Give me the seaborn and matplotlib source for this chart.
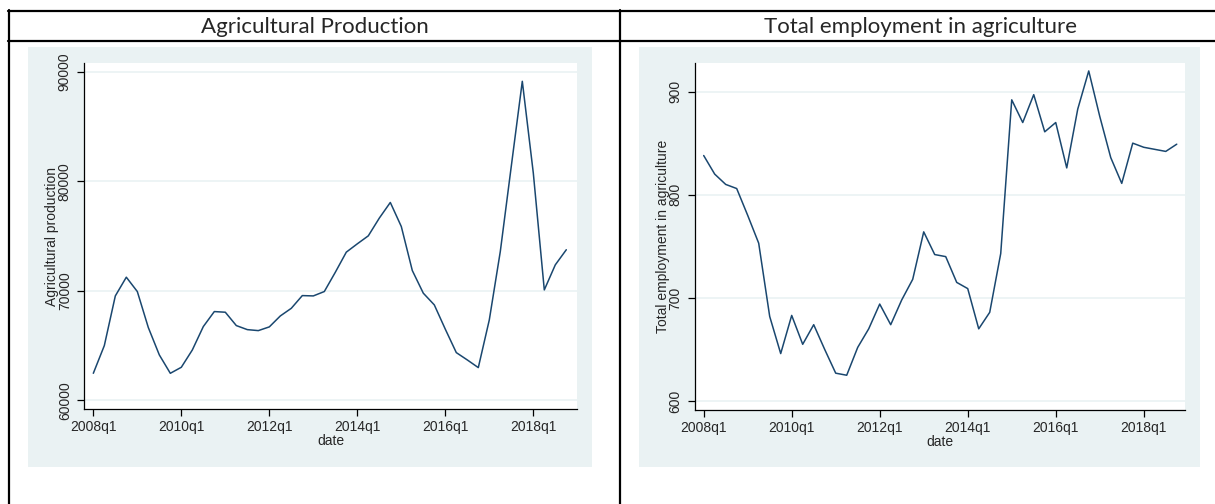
import matplotlib.pyplot as plt
import pandas as pd
import seaborn as sns
from matplotlib.lines import Line2D

W, H = 1215, 504
LINE = "#1a476f"
BG = "#eaf2f3"

quarters = [f"{y}q{q}" for y in range(2008, 2019) for q in range(1, 5)]

agri_production = [
    62470, 65000, 69540, 71250, 69940, 66650, 64150, 62470,
    63020, 64600, 66740, 68110, 68050, 66830, 66460, 66370,
    66710, 67710, 68410, 69570, 69540, 69940, 71700, 73540,
    74300, 75030, 76650, 78080, 75880, 71860, 69790, 68720,
    66500, 64360, 63690, 62990, 67350, 73600, 81400, 89150,
    80770, 70090, 72380, 73760,
]
agri_employment = [
    838, 820, 810, 806, 780, 753, 682, 646,
    683, 655, 674, 650, 627, 625, 652, 670,
    694, 674, 698, 718, 764, 742, 740, 715,
    709, 670, 686, 743, 892, 870, 897, 861,
    870, 826, 883, 920, 876, 836, 811, 850,
    846, 844, 842, 849,
]

x_ticks = ["2008q1", "2010q1", "2012q1", "2014q1", "2016q1", "2018q1"]
prod_ticks = [60000, 70000, 80000, 90000]
emp_ticks = [600, 700, 800, 900]


def px_axes(fig, left, top, right, bottom):
    return fig.add_axes([left / W, 1 - bottom / H, (right - left) / W, (bottom - top) / H])


def px_background(fig, left, top, right, bottom):
    bg = px_axes(fig, left, top, right, bottom)
    bg.set_facecolor(BG)
    bg.set_xticks([])
    bg.set_yticks([])
    for s in bg.spines.values():
        s.set_visible(False)
    bg.set_zorder(0)


def px_line(fig, x1, y1, x2, y2):
    fig.add_artist(Line2D([x1 / W, x2 / W], [1 - y1 / H, 1 - y2 / H],
                          transform=fig.transFigure, color="black", lw=1.6))


def draw_panel(fig, box, values, yticks, ylim, xlim, ylabel):
    df = pd.DataFrame({"t": range(len(values)), "v": values})
    ax = px_axes(fig, *box)
    ax.set_zorder(2)
    ax.set_facecolor("white")
    sns.lineplot(data=df, x="t", y="v", color=LINE, lw=1.1, ax=ax)
    ax.set_xlim(*xlim)
    ax.set_ylim(*ylim)
    ax.set_xticks([quarters.index(t) for t in x_ticks])
    ax.set_xticklabels(x_ticks)
    ax.set_yticks(yticks)
    ax.set_yticklabels([str(v) for v in yticks], rotation=90, va="center")
    ax.grid(axis="y", color=BG, lw=1.2)
    ax.grid(axis="x", visible=False)
    ax.set_axisbelow(True)
    for side in ["top", "right"]:
        ax.spines[side].set_visible(False)
    for side in ["left", "bottom"]:
        ax.spines[side].set_color("black")
        ax.spines[side].set_linewidth(0.9)
    ax.tick_params(direction="out", length=5, width=0.9, color="black",
                   labelsize=10, pad=3, left=True, bottom=True)
    ax.tick_params(axis="y", pad=4)
    ax.set_xlabel("date", fontsize=10, labelpad=0)
    ax.set_ylabel(ylabel, fontsize=10, labelpad=-1)
    return ax


sns.set_theme(style="white")
plt.rcParams["font.family"] = ["Liberation Sans", "DejaVu Sans"]

fig = plt.figure(figsize=(W / 100, H / 100), dpi=100)
fig.patch.set_facecolor("white")

# grey graph regions behind each plot
px_background(fig, 28, 47.3, 592, 466.7)
px_background(fig, 639, 47.3, 1200, 467)

draw_panel(fig, (84.3, 62.7, 577.3, 409.3), agri_production, prod_ticks,
           (59180, 90850), (-0.82, 44.0), "Agricultural production")
draw_panel(fig, (695, 62.7, 1185, 410), agri_employment, emp_ticks,
           (591.3, 928), (-0.79, 43.75), "Total employment in agriculture")

# table frame around the two charts
px_line(fig, 8, 11, W, 11)
px_line(fig, 8, 41, W, 41)
px_line(fig, 9, 10, 9, H)
px_line(fig, 620, 10, 620, H)

fig.text(314.5 / W, 1 - 27 / H, "Agricultural Production", ha="center", va="center",
         fontsize=16, family=["Lato", "DejaVu Sans"])
fig.text(921 / W, 1 - 27 / H, "Total employment in agriculture", ha="center", va="center",
         fontsize=16, family=["Lato", "DejaVu Sans"])

fig.savefig("out.png", dpi=100)
